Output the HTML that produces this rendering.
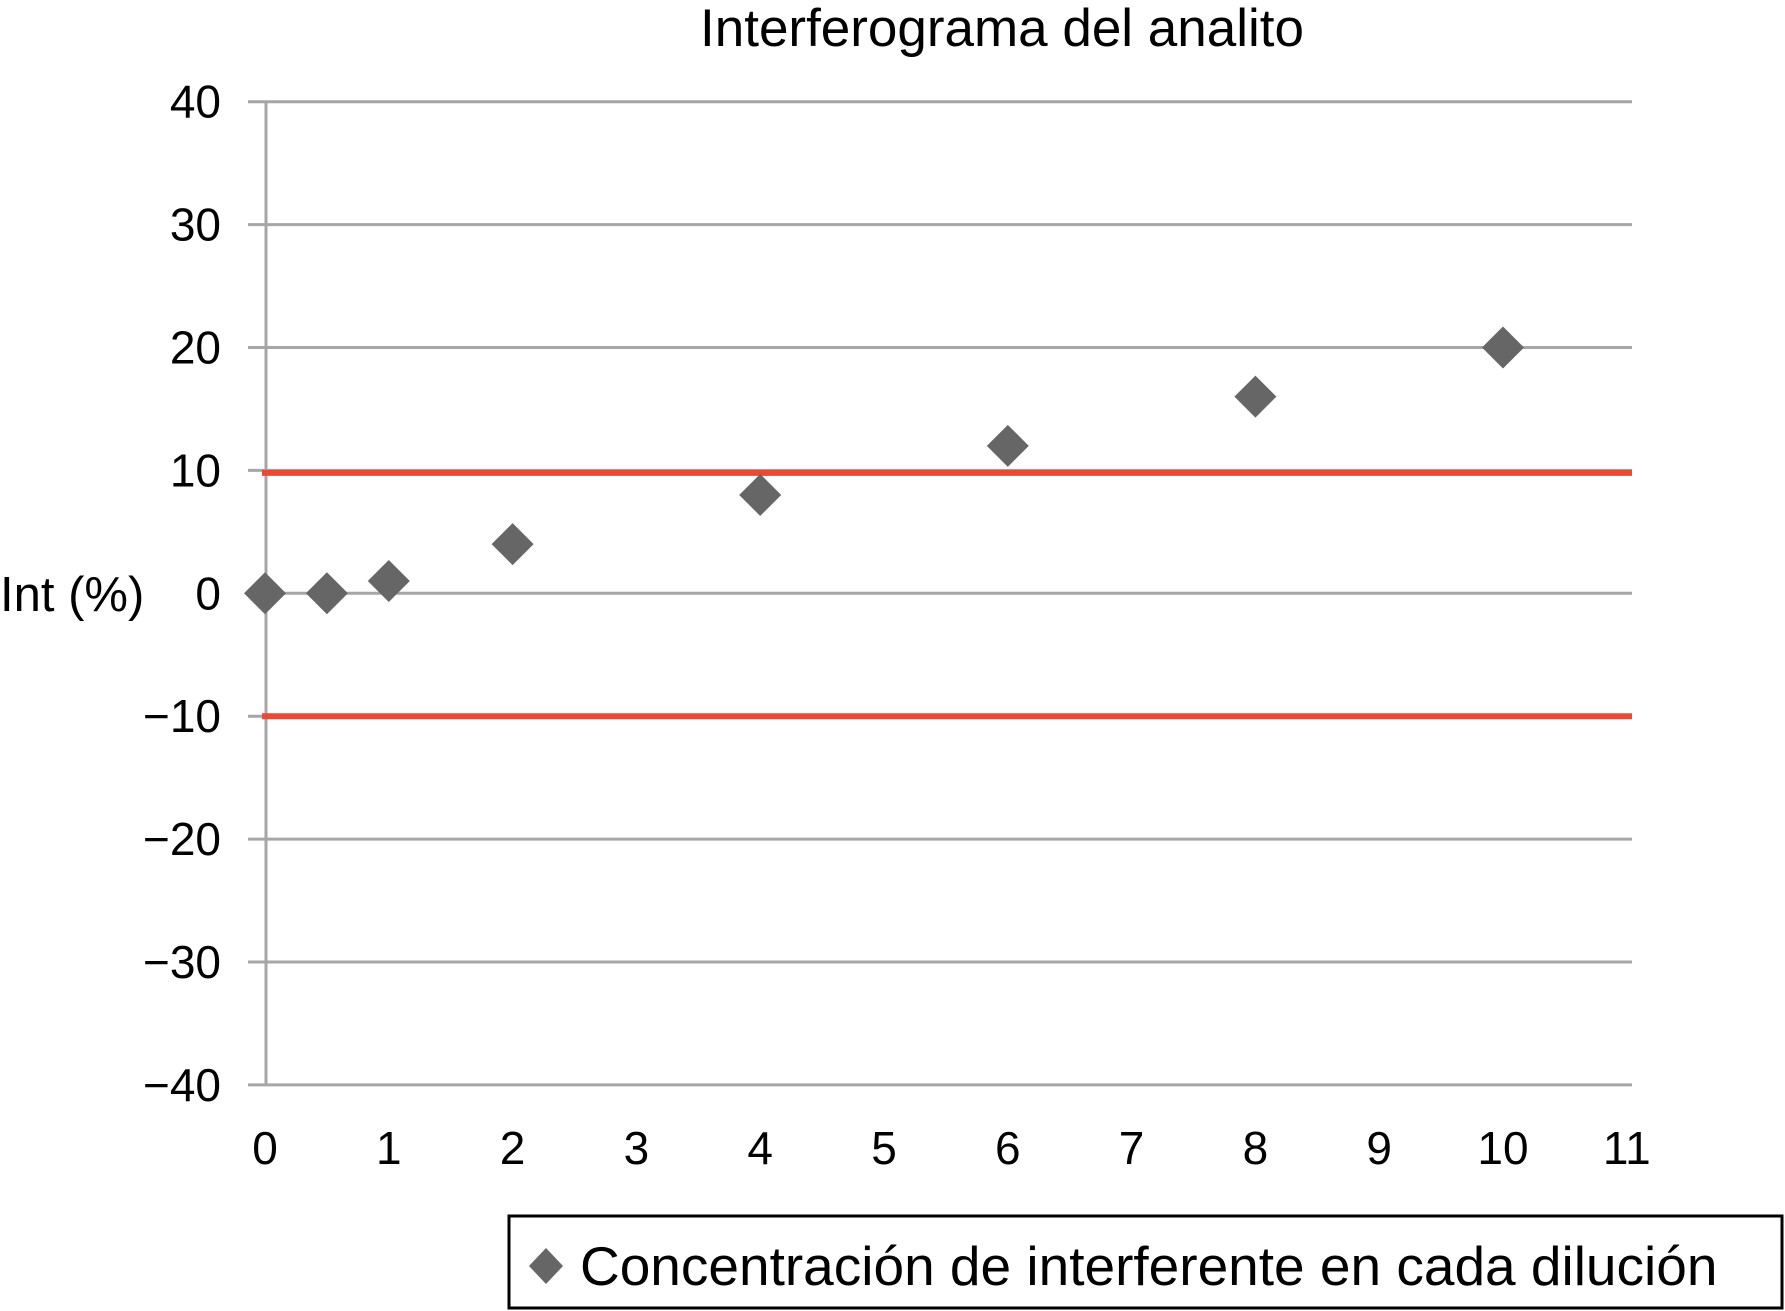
<!DOCTYPE html>
<html><head><meta charset="utf-8"><style>
html,body{margin:0;padding:0;background:#fff;}
svg{display:block;font-family:"Liberation Sans",Arial,sans-serif;}
</style></head><body>
<svg id="chart" width="1785" height="1311" viewBox="0 0 1785 1311">
<text x="1002" y="46" font-size="53" text-anchor="middle" fill="#000">Interferograma del analito</text>
<text x="0" y="611" font-size="49" fill="#000">Int (%)</text>
<g id="grid"></g>
<g id="limits"></g>
<g id="points"></g>
<g id="xt"></g>
<g id="yt"></g>
<rect x="509" y="1216" width="1273" height="92" fill="#fff" stroke="#000" stroke-width="3"/>
<path d="M546 1248 L563 1266 L546 1284 L529 1266 Z" fill="#666"/>
<text x="580" y="1285" font-size="55" fill="#000">Concentración de interferente en cada dilución</text>
</svg>
<script>
const xVals=[0,0.5,1,2,4,6,8,10];
const yVals=[0,0,1,4,8,12,16,20];
const yTicks=[40,30,20,10,0,-10,-20,-30,-40];
const yTickLabels=["40","30","20","10","0","\u221210","\u221220","\u221230","\u221240"];
const xTicks=[0,1,2,3,4,5,6,7,8,9,10,11];
const limits=[9.8,-10];
const NS="http://www.w3.org/2000/svg";
const X=v=>265+v*123.8;
const Y=v=>593.3-v*12.29;
function mk(t,a,p){const e=document.createElementNS(NS,t);for(const k in a)e.setAttribute(k,a[k]);p.appendChild(e);return e;}
const grid=document.getElementById('grid');
yTicks.forEach((v,i)=>{
 const l=mk('line',{x1:248,x2:1632,y1:Y(v),y2:Y(v),stroke:'#a6a6a6','stroke-width':3},grid);
 
 
 const t=mk('text',{x:221,y:Y(v)+16,'font-size':46,'text-anchor':'end',fill:'#000'},document.getElementById('yt'));
 t.textContent=yTickLabels[i];
 
 
});
const ax=mk('line',{x1:266,x2:266,y1:Y(40),y2:Y(-40),stroke:'#a6a6a6','stroke-width':3},grid);


xTicks.forEach(v=>{
 const t=mk('text',{x:X(v),y:1164,'font-size':46,'text-anchor':'middle',fill:'#000'},document.getElementById('xt'));
 t.textContent=String(v);
 
 
});
limits.forEach(v=>{
 const l=mk('line',{x1:262,x2:1632,y1:Y(v),y2:Y(v),stroke:'#e84a35','stroke-width':6},document.getElementById('limits'));
 
 
});
xVals.forEach((xv,i)=>{
 const cx=X(xv),cy=Y(yVals[i]);
 const p=mk('path',{d:`M${cx} ${cy-21} L${cx+21} ${cy} L${cx} ${cy+21} L${cx-21} ${cy} Z`,fill:'#666'},document.getElementById('points'));
 
 
});
</script>
</body></html>
